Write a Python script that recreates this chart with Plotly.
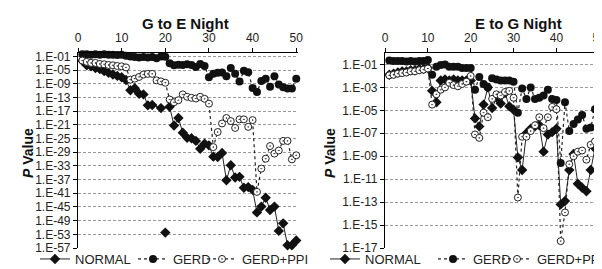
import plotly.graph_objects as go

# ---------------- data (log10 of P value) ----------------
days = list(range(1, 51))

# G to E Night
ge_normal = [-2.3, -3.6, -3.9, -4.4, -4.7, -5.3, -5.8, -6.3, -6.7, -7.1,
             -7.9, -10.9, -10.3, -11.9, -12.1, -15.3, -15.2, None, -16.1, None,
             -15.7, -21.2, -19.0, -23.3, -24.8, -24.9, -25.7, -28.0, -26.5, -27.0,
             -30.3, -30.4, -29.2, -37.2, -32.8, -36.4, -36.2, -39.4, -39.2, -40.0,
             -46.6, -44.9, -42.3, -45.9, -44.9, -52.0, -49.8, -56.2, -56.2, -54.8]
ge_normal_extra_day = [20]
ge_normal_extra = [-52.5]
ge_gerd = [-0.4, -0.4, -0.5, -0.4, -0.5, -0.4, -0.5, -0.5, -0.6, -0.5,
           -0.8, -1.0, -1.2, -1.3, -1.2, -1.3, -1.2, -1.5, -1.0, -1.1,
           -3.0, -3.6, -3.4, -3.5, -3.3, -3.5, -4.1, -3.2, -3.8, -7.1,
           -6.1, -5.8, -5.7, -6.8, -4.4, -6.1, -8.3, -5.2, -5.6, -10.2,
           -11.4, -8.2, -7.5, -9.9, -6.8, -9.2, -10.0, -10.4, -10.4, -7.5]
ge_gerd_ppi = [-2.2, -2.6, -2.9, -2.9, -3.2, -3.3, -3.5, -3.6, -3.8, -3.9,
               -4.2, -7.8, -7.5, -7.0, -6.3, -6.1, -6.1, -8.0, -8.3, -8.7,
               -13.6, -14.4, -13.8, -12.1, -12.8, -13.1, -13.3, -12.8, -13.4, -14.8,
               -27.5, -23.1, -20.6, -19.0, -19.9, -21.9, -19.4, -19.4, -21.6, -19.6,
               -40.6, -33.8, -30.9, -27.2, -29.4, -28.5, -25.7, -25.7, -31.1, -29.9]

# E to G Night
eg_normal = [-1.9, -1.8, -1.7, -1.6, -1.6, -1.5, -1.5, -1.4, -1.4, -1.3,
             -3.3, -4.3, -2.4, -2.3, -2.4, -2.3, -2.4, -2.4, -2.4, -2.4,
             -5.7, -6.4, -4.5, -3.0, -4.8, -3.9, -4.4, -3.5, -4.65, -4.95,
             -9.1, -10.2, -7.0, -6.6, -6.4, -6.3, -8.6, -7.1, -6.9, -6.6,
             -13.2, -12.9, -10.2, -8.8, -11.4, -11.75, -12.05, -10.2, -8.3, -8.0]
eg_gerd = [-0.65, -0.7, -0.7, -0.7, -0.75, -0.7, -0.75, -0.7, -0.7, -0.6,
           -1.9, -1.2, -1.05, -1.0, -1.2, -1.2, -1.2, -1.3, -1.3, -1.3,
           -3.2, -2.1, -2.7, -3.0, -2.2, -2.3, -2.4, -2.4, -2.4, -2.5,
           -5.2, -3.1, -4.0, -3.0, -4.0, -3.9, -3.7, -3.2, -4.0, -4.1,
           -9.6, -4.3, -6.8, -6.2, -5.8, -5.4, -6.6, -6.5, -4.9, -5.4]
eg_gerd_ppi = [-1.95, -1.9, -1.8, -1.75, -1.7, -1.6, -1.6, -1.5, -1.45, -1.35,
               -4.5, -3.6, -3.2, -3.0, -2.6, -2.8, -2.9, -2.7, -2.5, -2.0,
               -7.1, -7.4, -5.2, -5.6, -4.0, -3.6, -3.7, -3.4, -3.3, -3.9,
               -12.6, -7.3, -7.3, -6.8, -6.3, -5.6, -6.55, -5.6, -4.7, -4.9,
               -16.4, -13.9, -9.7, -9.0, -8.6, -8.5, -9.3, -8.0, -7.7, -7.5]

series_names = ["NORMAL", "GERD", "GERD+PPI"]
x_ticks = [0, 10, 20, 30, 40, 50]
ge_ytick_exp = list(range(-1, -58, -4))
eg_ytick_exp = list(range(-1, -18, -2))


def p(vals):
    return [None if v is None else 10 ** v for v in vals]


def label(e):
    return "1.E-%02d" % (-e)


W, H = 602, 269
FONT = "Liberation Sans, Arial, sans-serif"
fig = go.Figure()

styles = {
    "NORMAL": dict(mode="lines+markers",
                   line=dict(color="#222222", width=1),
                   marker=dict(symbol="diamond", size=8, color="#111111")),
    "GERD": dict(mode="lines+markers",
                 line=dict(color="#222222", width=1.2, dash="dot"),
                 marker=dict(symbol="circle", size=8, color="#111111")),
    "GERD+PPI": dict(mode="lines+markers",
                     line=dict(color="#222222", width=1.2, dash="dot"),
                     marker=dict(symbol="circle-dot", size=7, color="white",
                                 line=dict(color="#222222", width=1))),
}

# legend text start positions (px) for each entry, per panel
legend_text_x = [[65, 163, 232], [355, 463, 527]]

panels = [
    ("x", "y", [ge_normal, ge_gerd, ge_gerd_ppi]),
    ("x2", "y2", [eg_normal, eg_gerd, eg_gerd_ppi]),
]
legend_layouts = {}
k = 0
for pi, (xa, ya, vals_list) in enumerate(panels):
    for si, (name, vals) in enumerate(zip(series_names, vals_list)):
        k += 1
        lg = "legend" if k == 1 else "legend%d" % k
        fig.add_trace(go.Scatter(x=days, y=p(vals), name=name, xaxis=xa, yaxis=ya,
                                 legend=lg, connectgaps=True, cliponaxis=False,
                                 **styles[name]))
        legend_layouts[lg] = dict(
            orientation="h", x=(legend_text_x[pi][si] - 38) / W, y=1 - 251 / H,
            xanchor="left", yanchor="middle", font=dict(size=13, family=FONT, color="#222"),
            itemwidth=30, bgcolor="rgba(0,0,0,0)", borderwidth=0, itemclick=False,
            itemdoubleclick=False)

fig.add_trace(go.Scatter(x=ge_normal_extra_day, y=p(ge_normal_extra), mode="markers",
                         marker=dict(symbol="diamond", size=8, color="#111111"),
                         showlegend=False, xaxis="x", yaxis="y", cliponaxis=False))

ytop = 1 - 45 / H
ybot = 1 - 240 / H
ycommon = dict(showline=True, linecolor="black", linewidth=1.2, ticks="outside",
               ticklen=4, tickcolor="black", automargin=False,
               tickfont=dict(size=12, family=FONT, color="#222"))
xcommon = dict(side="top", range=[0, 50.4], tickvals=x_ticks, showgrid=False,
               zeroline=False, showline=True, linecolor="black", linewidth=1.2,
               ticks="outside", ticklen=4, tickcolor="black", automargin=False,
               ticklabelstandoff=1,
               tickfont=dict(size=12, family=FONT, color="#222"))
grid = dict(showgrid=True, gridcolor="#9a9a9a", gridwidth=1, griddash="3px,2px")

fig.update_layout(
    width=W, height=H,
    margin=dict(l=0, r=0, t=0, b=0, autoexpand=False),
    paper_bgcolor="white", plot_bgcolor="white",
    font=dict(family=FONT, color="#222"),
    xaxis=dict(domain=[70 / W, 290 / W], anchor="y", **xcommon),
    yaxis=dict(domain=[ybot, ytop], anchor="x", type="log", range=[-57, 0],
               tickvals=[10 ** e for e in ge_ytick_exp],
               ticktext=[label(e) for e in ge_ytick_exp], **grid, **ycommon),
    xaxis2=dict(domain=[377 / W, 593 / W], anchor="y2", **xcommon),
    yaxis2=dict(domain=[ybot, ytop], anchor="x2", type="log", range=[-17, 0],
                tickvals=[10 ** e for e in eg_ytick_exp],
                ticktext=[label(e) for e in eg_ytick_exp], **grid, **ycommon),
    showlegend=True,
    **legend_layouts,
)

for txt, xc in (("<b>G to E Night</b>", 177), ("<b>E to G Night</b>", 510)):
    fig.add_annotation(text=txt, x=xc / W, y=1 - 15.5 / H, xref="paper", yref="paper",
                       xanchor="center", yanchor="middle", showarrow=False,
                       font=dict(size=15, family=FONT, color="#111"))
for xp in (20, 322):
    fig.add_annotation(text="<b><i>P</i> Value</b>", x=xp / W, y=1 - 145 / H, xref="paper",
                       yref="paper", xanchor="center", yanchor="middle", showarrow=False,
                       textangle=-90, font=dict(size=14, family=FONT, color="#111"))

fig.write_html("out.html")
